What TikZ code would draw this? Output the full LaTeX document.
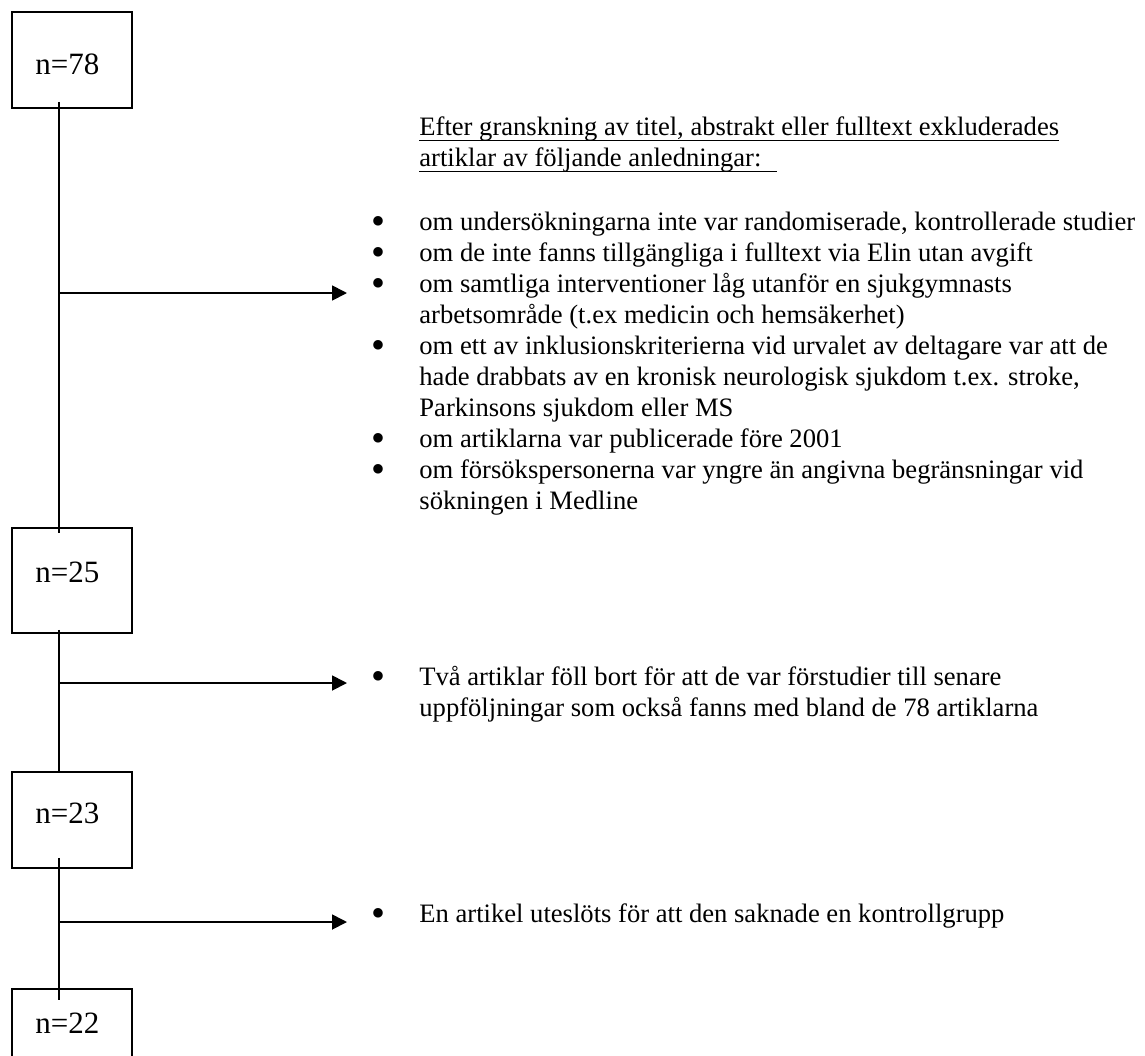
\documentclass[tikz,border=0pt]{standalone}
\usepackage{fontspec}
\setmainfont{Liberation Serif}
\usetikzlibrary{arrows.meta}

\newcommand{\undl}[1]{\setbox0\hbox{#1}\rlap{\rule[-2.8pt]{\wd0}{0.7pt}}\box0}
\newcommand{\bul}{\makebox[23pt][l]{\hspace{-1.2pt}\smash{\raisebox{-2pt}{\scalebox{1.5}{\textbullet}}}}}
\newcommand{\ind}{\hspace*{23pt}}

\tikzset{
  countbox/.style = {draw, line width=0.9pt, minimum width=60pt, inner sep=0pt, anchor=north west},
  count/.style    = {font=\fontsize{15.5}{18}\selectfont, inner sep=0pt, anchor=base west},
  reason/.style   = {font=\fontsize{13.3}{15.5}\selectfont, inner sep=0pt, anchor=north west, align=left},
  link/.style     = {line width=0.9pt},
  excl/.style     = {line width=0.9pt, -{Triangle[length=7.5pt, width=7.5pt]}}
}

\begin{document}
\begin{tikzpicture}[x=0.5pt, y=-0.5pt]
    \clip (0,0) rectangle (1145,1055);
    \fill[white] (0,0) rectangle (1145,1055);
    % coordinates for the spine and the arrow ends
    \coordinate (spine) at (59,  0);
    \coordinate (a1)    at (347, 293);
    \coordinate (a2)    at (347, 683);
    \coordinate (a3)    at (347, 922);
    % boxes with the number of articles
    \node[countbox, minimum height=48pt]   (b78) at (11, 11)  {};
    \node[countbox, minimum height=52.5pt] (b25) at (11, 527) {};
    \node[countbox, minimum height=48pt]   (b23) at (11, 771) {};
    \node[countbox, minimum height=48pt]   (b22) at (11, 988) {};
    \node[count] (n78) at (35, 74)   {n=78};
    \node[count] (n25) at (35, 582)  {n=25};
    \node[count] (n23) at (35, 823)  {n=23};
    \node[count] (n22) at (35, 1033) {n=22};
    % spine between the boxes
    \draw[link, shorten <=-3.5pt, shorten >=-3pt]  (b78.south -| spine) -- (b25.north -| spine);
    \draw[link, shorten <=-2pt,   shorten >=-0.5pt] (b25.south -| spine) -- (b23.north -| spine);
    \draw[link, shorten <=-5.5pt, shorten >=-6pt]  (b23.south -| spine) -- (b22.north -| spine);
    % arrows to the reasons
    \draw[excl] (a1 -| spine) -- (a1);
    \draw[excl] (a2 -| spine) -- (a2);
    \draw[excl] (a3 -| spine) -- (a3);
    % reasons for exclusion
    \node[reason] (head) at (419, 113.3) {\strut\undl{Efter granskning av titel, abstrakt eller fulltext exkluderades}\\
      \undl{artiklar av följande anledningar:\hspace{8pt}}};
    \node[reason] (r78) at (373, 208.3) {\strut\bul om undersökningarna inte var randomiserade, kontrollerade studier\\
      \bul om de inte fanns tillgängliga i fulltext via Elin utan avgift\\
      \bul om samtliga interventioner låg utanför en sjukgymnasts\\
      \ind arbetsområde (t.ex medicin och hemsäkerhet)\\
      \bul om ett av inklusionskriterierna vid urvalet av deltagare var att de\\
      \ind hade drabbats av en kronisk neurologisk sjukdom t.ex. stroke,\\
      \ind Parkinsons sjukdom eller MS\\
      \bul om artiklarna var publicerade före 2001\\
      \bul om försökspersonerna var yngre än angivna begränsningar vid\\
      \ind sökningen i Medline};
    \node[reason] (r25) at (373, 663.3) {\strut\bul Två artiklar föll bort för att de var förstudier till senare\\
      \ind uppföljningar som också fanns med bland de 78 artiklarna};
    \node[reason] (r23) at (373, 900.3) {\strut\bul En artikel uteslöts för att den saknade en kontrollgrupp};
\end{tikzpicture}
\end{document}
